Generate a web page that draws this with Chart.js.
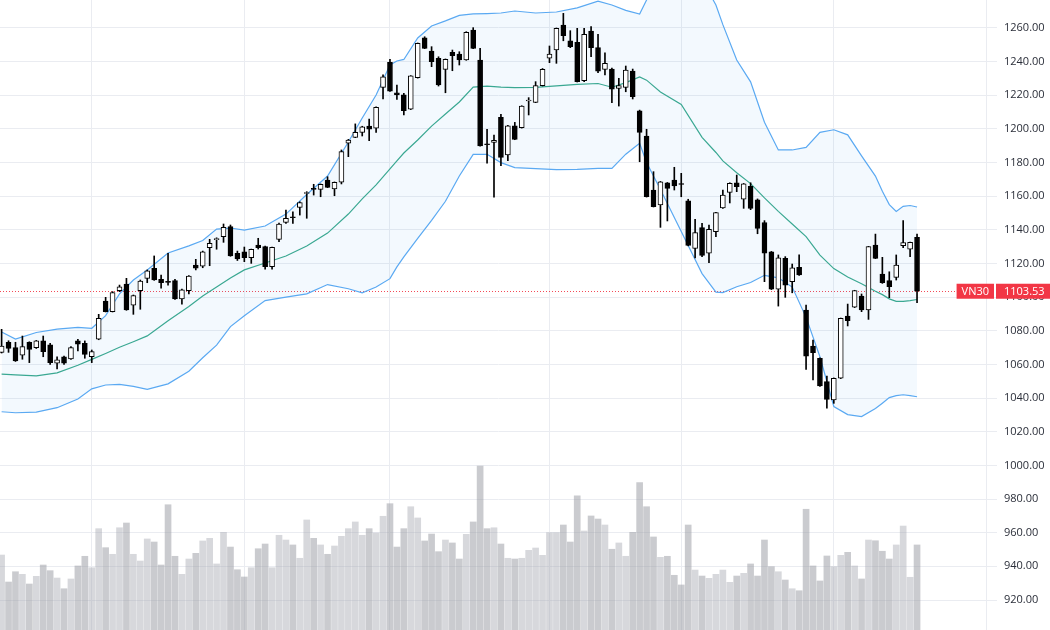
<!DOCTYPE html>
<html><head><meta charset="utf-8">
<script src="https://cdn.jsdelivr.net/npm/chart.js@4.4.1/dist/chart.umd.min.js"></script>
<style>html,body{margin:0;padding:0;background:#fff;overflow:hidden}#wrap{width:1050px;height:630px}</style>
</head><body><div id="wrap"><canvas id="c" width="1050" height="630"></canvas></div>
<script>
const symbolName = 'VN30';
const openP = [1067.2,1073.2,1070.0,1065.6,1073.2,1070.0,1074.1,1071.6,1060.7,1064.6,1063.3,1074.0,1072.6,1064.6,1075.0,1097.7,1091.4,1103.9,1107.8,1095.3,
1103.9,1111.2,1117.2,1110.6,1109.3,1109.8,1098.9,1103.9,1119.1,1118.5,1129.4,1134.2,1136.0,1141.9,1126.0,1127.0,1123.5,1131.0,1130.0,1118.1,
1134.4,1144.5,1147.7,1153.4,1161.6,1164.3,1164.1,1169.6,1164.3,1168.3,1191.5,1195.0,1198.0,1201.7,1200.4,1224.7,1239.6,1221.5,1220.2,1211.7,
1230.4,1254.2,1246.3,1242.0,1235.4,1245.5,1244.5,1241.0,1258.8,1241.0,1190.9,1192.0,1206.9,1184.5,1201.9,1200.7,1216.6,1215.8,1225.7,1242.0,
1246.9,1261.8,1252.3,1251.5,1228.7,1258.2,1248.3,1235.4,1235.6,1224.1,1224.7,1234.4,1210.7,1195.8,1163.7,1154.8,1168.0,1169.6,1167.3,1157.2,
1129.0,1141.3,1126.1,1138.9,1153.0,1162.3,1168.0,1158.2,1165.9,1157.9,1144.4,1127.0,1104.7,1123.1,1109.2,1117.8,1092.4,1071.0,1063.7,1049.8,
1038.9,1051.8,1088.8,1094.0,1100.7,1092.4,1131.0,1113.8,1109.8,1111.8,1130.6,1128.5,1135.6];
const highP = [1080.9,1074.1,1073.2,1076.9,1073.5,1074.3,1076.9,1072.6,1064.6,1065.0,1070.6,1074.9,1074.0,1068.6,1089.8,1099.9,1103.3,1107.2,1111.2,1101.3,
1110.2,1116.2,1124.5,1113.2,1126.1,1110.6,1104.8,1112.8,1122.5,1127.4,1134.4,1135.3,1143.5,1142.9,1127.4,1129.8,1128.6,1135.0,1130.4,1129.8,
1144.1,1151.8,1150.8,1156.7,1162.7,1167.1,1167.3,1171.6,1168.5,1187.5,1193.8,1203.0,1201.6,1205.9,1213.1,1232.1,1241.4,1226.1,1221.2,1231.7,
1251.1,1254.8,1248.9,1242.9,1241.6,1246.9,1245.9,1257.8,1260.2,1247.9,1199.8,1196.4,1208.7,1202.1,1203.9,1213.8,1218.6,1228.1,1235.9,1249.3,
1260.0,1268.7,1258.4,1259.8,1259.8,1260.8,1256.2,1245.3,1236.2,1230.1,1237.4,1235.6,1211.2,1199.8,1174.6,1168.8,1168.2,1177.2,1173.6,1158.2,
1146.3,1143.9,1142.9,1150.5,1163.7,1168.0,1172.6,1167.6,1168.0,1158.4,1145.5,1127.2,1125.1,1124.1,1119.7,1125.1,1095.3,1074.5,1063.9,1053.1,
1052.0,1087.6,1095.9,1104.1,1101.9,1130.2,1137.5,1123.7,1115.1,1125.1,1145.5,1132.8,1137.5];
const lowP = [1066.8,1067.2,1061.8,1063.1,1061.1,1069.5,1064.6,1060.1,1057.3,1060.1,1063.0,1068.0,1063.7,1061.1,1074.7,1091.2,1091.2,1103.3,1092.2,1089.8,
1092.8,1108.6,1110.0,1105.3,1107.2,1098.7,1095.8,1101.9,1116.2,1117.5,1118.7,1128.5,1132.6,1124.3,1121.8,1121.1,1120.1,1128.6,1116.6,1116.7,
1133.0,1143.9,1143.9,1148.8,1146.9,1160.7,1159.7,1165.1,1160.3,1167.3,1183.5,1194.8,1195.8,1193.0,1198.0,1217.8,1222.3,1217.6,1208.3,1211.5,
1230.2,1247.7,1237.0,1225.5,1221.5,1234.6,1238.0,1240.8,1247.7,1189.7,1179.6,1159.5,1178.1,1181.1,1193.6,1200.5,1208.3,1215.6,1225.5,1239.4,
1239.0,1252.4,1248.3,1227.9,1228.1,1242.9,1233.4,1232.1,1215.6,1213.6,1222.1,1217.8,1180.5,1159.5,1153.6,1141.5,1145.3,1163.7,1159.7,1130.5,
1123.3,1124.1,1120.5,1135.9,1152.8,1156.0,1162.7,1152.8,1152.0,1137.7,1109.2,1104.5,1094.7,1099.9,1102.6,1113.0,1057.1,1050.8,1047.0,1034.0,
1036.9,1051.6,1082.9,1093.8,1091.4,1086.8,1122.9,1108.2,1099.7,1110.2,1129.4,1124.1,1096.7];
const closeP = [1071.0,1069.6,1062.1,1070.6,1069.0,1074.0,1067.6,1061.1,1062.7,1060.7,1070.0,1072.0,1066.0,1067.6,1087.4,1091.4,1102.7,1106.2,1092.4,1100.9,
1109.6,1115.7,1110.2,1108.6,1108.8,1098.9,1104.3,1112.6,1117.2,1127.0,1132.0,1134.6,1141.5,1124.5,1122.7,1123.5,1128.5,1129.4,1118.1,1129.6,
1143.5,1146.9,1147.2,1156.2,1161.8,1164.1,1167.1,1165.3,1168.3,1186.5,1193.4,1198.0,1201.3,1199.8,1212.9,1231.0,1222.5,1220.2,1210.8,1231.5,
1250.9,1247.9,1240.0,1226.1,1241.4,1243.5,1241.0,1257.4,1247.9,1189.9,1190.6,1193.2,1183.1,1201.9,1193.8,1213.6,1216.9,1225.7,1235.4,1244.5,
1259.8,1255.4,1248.9,1228.1,1256.3,1248.3,1234.4,1239.0,1223.6,1225.7,1235.0,1219.2,1198.0,1159.7,1153.8,1168.6,1164.7,1166.1,1167.0,1130.7,
1138.4,1124.8,1140.3,1150.3,1160.7,1167.7,1165.7,1167.3,1152.8,1140.9,1126.1,1104.7,1123.4,1107.2,1117.5,1113.2,1065.0,1067.0,1047.2,1039.3,
1051.8,1087.4,1086.0,1103.9,1092.4,1130.0,1123.1,1108.6,1106.2,1119.1,1132.4,1132.6,1103.53];
const volumeM = [71.4,45.7,55.5,53.0,43.8,51.1,61.9,56.5,49.5,39.3,48.6,61.0,70.2,59.3,96.5,78.4,72.1,97.4,101.9,72.1,
65.7,86.7,83.8,61.9,119.3,70.2,53.0,67.6,73.0,84.8,87.3,62.9,93.0,79.0,57.4,50.5,59.3,77.4,81.9,59.3,
90.2,85.7,81.0,68.3,104.8,87.3,81.0,72.1,80.0,89.2,96.5,102.9,90.2,96.5,92.4,108.3,120.3,79.0,96.5,117.4,
106.7,84.8,91.4,74.6,85.7,82.9,67.6,91.1,102.9,156.2,96.5,97.4,81.9,68.3,67.6,68.3,75.9,78.1,71.1,92.7,
92.7,100.0,83.8,127.9,94.3,108.6,105.7,100.0,76.9,82.9,70.2,93.0,140.3,117.4,88.6,69.2,70.2,52.1,42.9,100.0,
57.1,51.4,49.2,53.0,57.1,45.4,51.4,54.0,62.9,51.4,85.7,60.3,55.5,47.6,39.3,37.4,115.0,61.0,46.7,70.5,
60.3,71.1,74.0,61.0,48.6,85.7,85.0,75.0,67.6,81.0,99.0,50.2,81.0];
const bandIdx   = [0,2,5,8,11,13,15,17,19,21,24,27,29,31,33,35,38,41,44,47,50,52,54,56,57,58,60,62,64,66,68,70,72,74,77,80,83,86,88,90,92,93,95,98,101,103,104,106,108,110,112,114,116,118,120,122,124,126,127,128,129,130,131,132];
const bandUpper = [1079.3,1075.1,1079.0,1081.0,1082.0,1081.5,1089.0,1102.0,1110.2,1116.2,1126.3,1130.5,1133.7,1140.5,1141.1,1139.9,1142.3,1149.4,1161.0,1172.0,1192.2,1206.5,1220.2,1238.0,1240.4,1241.3,1254.1,1261.2,1264.2,1267.5,1268.4,1268.6,1268.9,1270.1,1268.9,1269.5,1272.0,1276.0,1273.7,1270.5,1268.3,1276.6,1291.5,1297.5,1288.5,1273.7,1262.0,1241.0,1228.0,1204.0,1187.5,1187.5,1189.0,1198.0,1199.5,1196.5,1184.0,1172.0,1163.0,1155.0,1151.0,1154.0,1154.5,1153.6];
const bandMiddle= [1054.3,1053.8,1053.2,1055.0,1059.5,1063.0,1066.5,1070.2,1073.5,1077.0,1086.0,1094.5,1100.7,1106.0,1111.4,1116.2,1120.3,1124.5,1130.4,1138.1,1149.4,1158.4,1166.7,1176.2,1181.0,1185.7,1193.4,1201.7,1208.9,1216.0,1224.9,1225.5,1224.8,1224.5,1224.7,1225.6,1226.5,1227.0,1224.8,1227.5,1230.9,1229.0,1222.0,1214.5,1195.0,1186.0,1181.0,1174.0,1167.5,1159.0,1151.0,1143.5,1136.0,1125.0,1117.0,1112.0,1108.0,1103.5,1101.5,1099.0,1097.5,1097.5,1098.0,1098.6];
const bandLower = [1031.9,1031.3,1031.7,1034.3,1039.5,1045.5,1047.8,1048.2,1047.0,1045.2,1048.5,1056.0,1064.0,1071.5,1082.5,1089.0,1098.0,1100.0,1102.0,1107.5,1105.0,1102.6,1106.0,1111.0,1118.0,1124.0,1135.0,1145.7,1157.0,1172.0,1184.9,1184.9,1180.0,1177.0,1176.4,1175.8,1176.0,1176.6,1176.6,1185.0,1191.5,1180.0,1164.0,1139.0,1114.0,1103.0,1102.7,1106.2,1108.7,1113.0,1111.5,1106.0,1088.0,1064.6,1035.0,1030.2,1029.0,1033.8,1037.0,1040.3,1041.5,1042.0,1041.5,1040.8];
const priceTicks = [920,940,960,980,1000,1020,1040,1060,1080,1100,1120,1140,1160,1180,1200,1220,1240,1260];
const timeGridIdx = [13,35,56,79,98,120,142];

const N = closeP.length;
const lastClose = closeP[N-1];
const up = closeP.map((c,i)=>c>=openP[i]);
const gridColor = '#eaecf1';
const FONT = '"Open Sans", "Liberation Sans", sans-serif';

const lastPricePlugin = {
  id:'lastPrice',
  beforeDatasetsDraw(chart){
    const {ctx, chartArea} = chart; const y = Math.round(chart.scales.y.getPixelForValue(lastClose))+0.5;
    ctx.save(); ctx.strokeStyle='rgba(242,54,69,0.9)'; ctx.lineWidth=1; ctx.setLineDash([1,2]);
    ctx.beginPath(); ctx.moveTo(chartArea.left,y); ctx.lineTo(chartArea.right,y); ctx.stroke(); ctx.restore();
  },
  afterDraw(chart){
    const {ctx, chartArea} = chart; const y = chart.scales.y.getPixelForValue(lastClose);
    const h = 15;
    ctx.save(); ctx.font = '11px '+FONT; ctx.textBaseline='middle';
    ctx.fillStyle='#f23645';
    ctx.fillRect(chartArea.right-1, y-h/2, chart.width-chartArea.right+1, h);
    const tw = ctx.measureText(symbolName).width; const bw = tw+10;
    ctx.fillRect(chartArea.right-3-bw, y-h/2, bw, h);
    ctx.fillStyle='#fff'; ctx.textAlign='left';
    ctx.fillText(lastClose.toFixed(2), chartArea.right+7, y+0.5);
    ctx.textAlign='center'; ctx.fillText(symbolName, chartArea.right-3-bw/2, y+0.5);
    ctx.restore();
  }
};

function noPad(s){ s.paddingTop = 0; s.paddingBottom = 0; s.paddingLeft = 0; s.paddingRight = 0; }

new Chart(document.getElementById('c'), {
  type:'bar',
  data:{datasets:[
    {type:'bar', label:'body', order:1, grouped:false, barThickness:5, minBarLength:1,
     data: openP.map((o,i)=>({x:i, y:[o, closeP[i]]})),
     backgroundColor: up.map(u=>u?'#ffffff':'#000000'), borderColor:'#000000', borderWidth:1, borderSkipped:false},
    {type:'bar', label:'wick', order:2, grouped:false, barThickness:1,
     data: lowP.map((l,i)=>({x:i, y:[l, highP[i]]})), backgroundColor:'#000000', borderWidth:0},
    {type:'line', label:'upper', order:32, data: bandIdx.map((x,k)=>({x, y:bandUpper[k]})),
     borderColor:'#5aa9f2', borderWidth:1.2, pointRadius:0, tension:0,
     fill:{target:4, above:'rgba(33,150,243,0.055)', below:'rgba(33,150,243,0.055)'}},
    {type:'line', label:'middle', order:30, data: bandIdx.map((x,k)=>({x, y:bandMiddle[k]})),
     borderColor:'#3aa892', borderWidth:1.2, pointRadius:0, tension:0, fill:false},
    {type:'line', label:'lower', order:31, data: bandIdx.map((x,k)=>({x, y:bandLower[k]})),
     borderColor:'#5aa9f2', borderWidth:1.2, pointRadius:0, tension:0, fill:false},
    {type:'bar', label:'volume', order:40, grouped:false, yAxisID:'vol', barThickness:6,
     data: volumeM.map((v,i)=>({x:i, y:v})),
     backgroundColor: up.map(u=>u?'rgba(160,163,172,0.42)':'rgba(150,152,160,0.5)'), borderWidth:0}
  ]},
  options:{
    responsive:false, animation:false, events:[],
    layout:{padding:0},
    plugins:{legend:{display:false}, tooltip:{enabled:false}},
    scales:{
      x:{type:'linear', min:-0.231, max:143.53, offset:false,
         grid:{color:gridColor, drawTicks:false, offset:false}, border:{display:false},
         ticks:{display:false},
         afterBuildTicks(s){ s.ticks = timeGridIdx.map(v=>({value:v})); },
         afterFit(s){ s.height = 0; noPad(s); }},
      y:{type:'linear', position:'right', min:902.17, max:1276.64,
         grid:{color:gridColor, drawTicks:false}, border:{display:false},
         ticks:{padding:7, color:'#2a2e39', font:{family:FONT, size:11}, callback:v=>Number(v).toFixed(2)},
         afterBuildTicks(s){ s.ticks = priceTicks.map(v=>({value:v})); },
         afterFit(s){ s.width = 53; noPad(s); }},
      vol:{type:'linear', display:false, min:0, max:600, position:'left'}
    }
  },
  plugins:[lastPricePlugin]
});
</script></body></html>
